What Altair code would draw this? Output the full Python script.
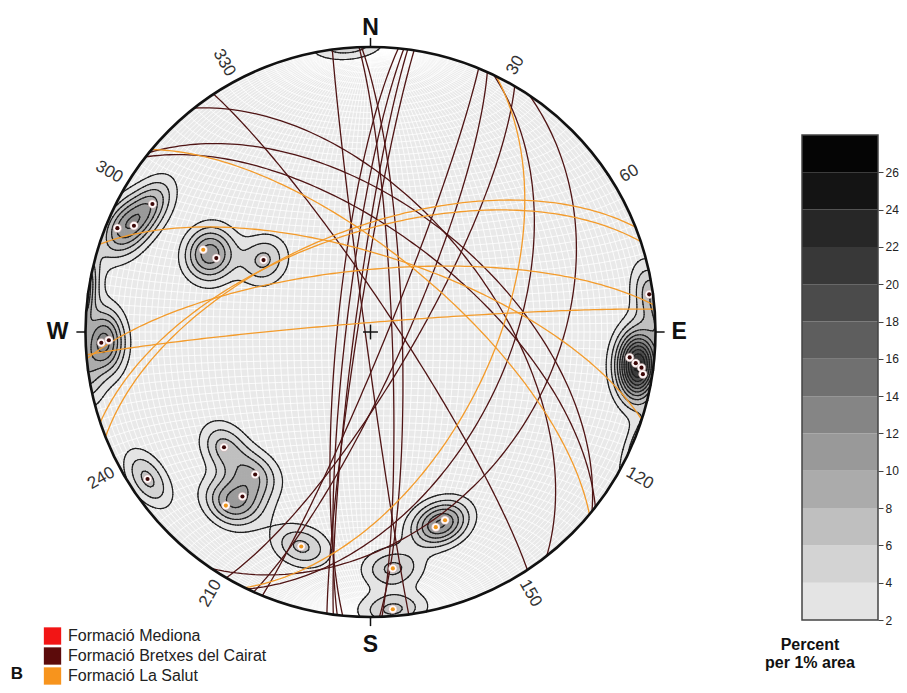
import numpy as np
import pandas as pd
import altair as alt

alt.data_transformers.disable_max_rows()

# ------------------------------------------------------------------ data
BC = "Formació Bretxes del Cairat"
LS = "Formació La Salut"
MD = "Formació Mediona"
formations = [MD, BC, LS]
legend_colors = ["#f21515", "#5c0b0b", "#f7941d"]
circle_colors = {MD: "#e02020", BC: "#4f1414", LS: "#f39b2b"}
pole_colors = {MD: "#e02020", BC: "#3d0707", LS: "#f0961c"}

# poles to planes (trend / plunge, degrees), lower hemisphere
pole_trend = [267.7, 268.2, 300.4, 294.2, 292.3, 296.2, 295.6, 303.9,
              82.3, 95.6, 96.7, 97.5, 98.8,
              231.8, 219.0, 217.9, 219.8, 236.6,
              197.9, 174.6, 175.4, 161.5, 158.4]
pole_plunge = [6.1, 9.0, 12.3, 9.9, 4.5, 34.9, 39.8, 52.7,
               1.5, 9.5, 7.0, 4.6, 3.7,
               34.9, 35.9, 27.7, 21.8, 7.0,
               22.0, 17.8, 2.7, 28.6, 29.7]
pole_formation = [BC, BC, BC, BC, BC, LS, BC, BC,
                  BC, BC, BC, BC, BC,
                  BC, BC, BC, LS, BC,
                  LS, LS, LS, LS, LS]

pct_levels = [2, 4, 6, 8, 10, 12, 14, 16, 18, 20, 22, 24, 26, 28]
band_colors = ["#e4e4e4", "#d3d3d3", "#bfbfbf", "#ababab", "#999999", "#858585",
               "#707070", "#5e5e5e", "#4b4b4b", "#383838", "#272727", "#141414", "#050505"]

cardinal_labels = ["N", "E", "S", "W"]
cardinal_az = [0, 90, 180, 270]
degree_labels = [30, 60, 120, 150, 210, 240, 300, 330]

FONT = "Liberation Sans"
R_PX = 285.0
CX, CY = 362.5, 324.0  # plot-area pixel centre of the net
SX = alt.Scale(domain=[-1, 1], range=[CX - R_PX, CX + R_PX], nice=False, zero=False)
SY = alt.Scale(domain=[-1, 1], range=[CY + R_PX, CY - R_PX], nice=False, zero=False)


def X(f="x"):
    return alt.X(f + ":Q", scale=SX, axis=None)


def Y(f="y"):
    return alt.Y(f + ":Q", scale=SY, axis=None)


# ------------------------------------------------------------------ projection helpers
def to_xy(n, e, z):
    s = np.sqrt(1.0 + z)
    return e / s, n / s


def vec(trend, plunge):
    t, p = np.radians(trend), np.radians(plunge)
    return np.cos(p) * np.cos(t), np.cos(p) * np.sin(t), np.sin(p)


def great_circle(dd, dip, npts=91):
    phi = np.linspace(0, np.pi, npts)
    a, d = np.radians(dd), np.radians(dip)
    sn, se = np.cos(a - np.pi / 2), np.sin(a - np.pi / 2)
    dn, de, dz = np.cos(d) * np.cos(a), np.cos(d) * np.sin(a), np.sin(d)
    n = np.cos(phi) * sn + np.sin(phi) * dn
    e = np.cos(phi) * se + np.sin(phi) * de
    z = np.maximum(np.sin(phi) * dz, 0)
    return to_xy(n, e, z)


def small_circle(alpha, sign, npts=61):
    phi = np.linspace(0, np.pi, npts)
    a = np.radians(alpha)
    n = sign * np.cos(a) * np.ones_like(phi)
    e = np.sin(a) * np.cos(phi)
    z = np.maximum(np.sin(a) * np.sin(phi), 0)
    return to_xy(n, e, z)


# ------------------------------------------------------------------ net grid
net_rows = []
lid = 0
for dip in range(2, 90, 2):
    for dd in (90, 270):
        x, y = great_circle(dd, dip, 61)
        net_rows += [(lid, i, round(a, 4), round(b, 4)) for i, (a, b) in enumerate(zip(x, y))]
        lid += 1
x, y = great_circle(90, 90, 3)
net_rows += [(lid, i, round(a, 4), round(b, 4)) for i, (a, b) in enumerate(zip(x, y))]
lid += 1
for alpha in range(2, 90, 2):
    for sign in (1, -1):
        x, y = small_circle(alpha, sign, 41)
        net_rows += [(lid, i, round(a, 4), round(b, 4)) for i, (a, b) in enumerate(zip(x, y))]
        lid += 1
x, y = small_circle(90, 1, 3)
net_rows += [(lid, i, round(a, 4), round(b, 4)) for i, (a, b) in enumerate(zip(x, y))]
net_df = pd.DataFrame(net_rows, columns=["id", "seq", "x", "y"])

# ------------------------------------------------------------------ density (percent per 1% area)
K = 150.0
h = 2.5 / R_PX
g = np.arange(-1 - 2 * h, 1 + 2 * h + 1e-9, h)
GX, GY = np.meshgrid(g, g)
rr = np.hypot(GX, GY)
fct = np.where(rr > 1, 1.0 / np.maximum(rr, 1e-12), 1.0)
xx, yy = GX * fct, GY * fct
q = xx ** 2 + yy ** 2
zz = 1 - q
kk = np.sqrt(np.maximum(2 - q, 0))
ee, nn = xx * kk, yy * kk
pn, pe, pz = vec(np.array(pole_trend), np.array(pole_plunge))
dens = np.zeros_like(GX)
for a, b, c in zip(pn, pe, pz):
    dens += np.exp(K * (np.abs(nn * a + ee * b + zz * c) - 1))
dens *= K / len(pole_trend)

mask = (rr <= 1.0) & (dens >= pct_levels[0])
band = np.clip((dens // 2).astype(int) - 1, 0, len(band_colors) - 1)
cell_df = pd.DataFrame({
    "x": np.round(GX[mask], 4),
    "y": np.round(GY[mask], 4),
    "col": np.array(band_colors)[band[mask]],
})


def contour_segments(xs, ys, V, level):
    a = V[:-1, :-1]; b = V[:-1, 1:]; c = V[1:, 1:]; d = V[1:, :-1]
    ny, nx = a.shape
    x0 = np.broadcast_to(xs[:-1][None, :], (ny, nx))
    x1 = np.broadcast_to(xs[1:][None, :], (ny, nx))
    y0 = np.broadcast_to(ys[:-1][:, None], (ny, nx))
    y1 = np.broadcast_to(ys[1:][:, None], (ny, nx))

    def cr(p, s):
        return (p >= level) != (s >= level)

    def tt(p, s):
        with np.errstate(divide="ignore", invalid="ignore"):
            return np.where(s != p, (level - p) / (s - p), 0.5)

    t0, t1, t2, t3 = tt(a, b), tt(b, c), tt(d, c), tt(a, d)
    F = np.stack([cr(a, b), cr(b, c), cr(d, c), cr(a, d)])
    EX = np.stack([x0 + t0 * (x1 - x0), x1, x0 + t2 * (x1 - x0), x0])
    EY = np.stack([y0, y0 + t1 * (y1 - y0), y1, y0 + t3 * (y1 - y0)])
    segs = []
    for i, j in np.argwhere(F.sum(0) >= 2):
        pts = [(EX[k, i, j], EY[k, i, j]) for k in range(4) if F[k, i, j]]
        segs.append(pts[0] + pts[1])
        if len(pts) == 4:
            segs.append(pts[2] + pts[3])
    return segs


seg_rows = []
for lev in pct_levels[:-1]:
    for (ax, ay, bx, by) in contour_segments(g, g, dens, lev):
        if np.hypot((ax + bx) / 2, (ay + by) / 2) <= 1.0:
            seg_rows.append((round(ax, 4), round(ay, 4), round(bx, 4), round(by, 4)))
seg_df = pd.DataFrame(seg_rows, columns=["x", "y", "x2", "y2"])

# ------------------------------------------------------------------ great circles and poles
gc_rows = []
order = [i for i in range(len(pole_trend)) if pole_formation[i] == BC] + \
        [i for i in range(len(pole_trend)) if pole_formation[i] == LS]
for i in order:
    x, y = great_circle(pole_trend[i] + 180.0, 90.0 - pole_plunge[i], 121)
    col = circle_colors[pole_formation[i]]
    gc_rows += [(i, k, round(a, 4), round(b, 4), col) for k, (a, b) in enumerate(zip(x, y))]
gc_df = pd.DataFrame(gc_rows, columns=["id", "seq", "x", "y", "col"])

pn, pe, pz = vec(np.array(pole_trend), np.array(pole_plunge))
px, py = to_xy(pn, pe, pz)
pole_df = pd.DataFrame({"x": px, "y": py,
                        "col": [pole_colors[f] for f in pole_formation]})

# ------------------------------------------------------------------ frame elements
centre_df = pd.DataFrame({"x": [0.0], "y": [0.0]})
circle_size = (2 * R_PX) ** 2  # vega symbol size = bounding-square area

tick_df = pd.DataFrame({
    "x": [np.sin(np.radians(a)) * 1.0 for a in cardinal_az],
    "y": [np.cos(np.radians(a)) * 1.0 for a in cardinal_az],
    "x2": [np.sin(np.radians(a)) * 1.032 for a in cardinal_az],
    "y2": [np.cos(np.radians(a)) * 1.032 for a in cardinal_az],
})
cross_df = pd.DataFrame({"x": [-0.026, 0.0], "y": [0.0, -0.026],
                         "x2": [0.026, 0.0], "y2": [0.0, 0.026]})
card_r = {"N": 1.068, "E": 1.083, "S": 1.098, "W": 1.098}
card_df = pd.DataFrame({
    "label": cardinal_labels,
    "x": [np.sin(np.radians(a)) * card_r[l] for l, a in zip(cardinal_labels, cardinal_az)],
    "y": [np.cos(np.radians(a)) * card_r[l] for l, a in zip(cardinal_labels, cardinal_az)],
})
deg_r = [1.045 + 0.01 * len(str(d)) for d in degree_labels]
deg_df = pd.DataFrame({
    "label": [str(d) for d in degree_labels],
    "x": [np.sin(np.radians(d - 1.5 * np.sign(180 - d))) * r for d, r in zip(degree_labels, deg_r)],
    "y": [np.cos(np.radians(d - 1.5 * np.sign(180 - d))) * r for d, r in zip(degree_labels, deg_r)],
    "ang": [((d - 90) if d < 180 else (d - 270)) % 360 for d in degree_labels],
})

cb_df = pd.DataFrame({"lo": pct_levels[:-1], "hi": pct_levels[1:], "col": band_colors})
CB_SCALE = alt.Scale(domain=[pct_levels[0], pct_levels[-1]], range=[612, 127], nice=False, zero=False)

leg_df = pd.DataFrame({"name": formations, "col": legend_colors,
                       "ypix": [628.0, 648.0, 668.0]})

# ------------------------------------------------------------------ layers
bg = alt.Chart(centre_df).mark_point(shape="circle", filled=True, size=circle_size,
                                     color="#e9e9e9", opacity=1, strokeWidth=0).encode(x=X(), y=Y())
net = alt.Chart(net_df).mark_line(color="#ffffff", strokeWidth=0.8).encode(
    x=X(), y=Y(), detail="id:N", order="seq:Q")
cells = alt.Chart(cell_df).mark_square(size=8.5, opacity=1, strokeWidth=0).encode(
    x=X(), y=Y(), color=alt.Color("col:N", scale=None))
cont = alt.Chart(seg_df).mark_rule(color="#1e1e1e", strokeWidth=1.2, strokeCap="round").encode(
    x=X(), y=Y(), x2="x2:Q", y2="y2:Q")
gcs = alt.Chart(gc_df).mark_line(strokeWidth=1.3).encode(
    x=X(), y=Y(), detail="id:N", order="seq:Q", color=alt.Color("col:N", scale=None))
halo = alt.Chart(pole_df).mark_point(shape="circle", filled=True, size=72, color="#fff8f8",
                                     opacity=1, stroke="#b89a9a", strokeWidth=0.5).encode(x=X(), y=Y())
dots = alt.Chart(pole_df).mark_point(shape="circle", filled=True, size=17, opacity=1,
                                     strokeWidth=0).encode(
    x=X(), y=Y(), color=alt.Color("col:N", scale=None))
rim = alt.Chart(centre_df).mark_point(shape="circle", filled=False, size=circle_size,
                                      color="#111111", opacity=1, strokeWidth=2.6).encode(x=X(), y=Y())
ticks = alt.Chart(tick_df).mark_rule(color="#111111", strokeWidth=1.5).encode(
    x=X(), y=Y(), x2="x2:Q", y2="y2:Q")
cross = alt.Chart(cross_df).mark_rule(color="#111111", strokeWidth=1.5).encode(
    x=X(), y=Y(), x2="x2:Q", y2="y2:Q")
cards = alt.Chart(card_df).mark_text(font=FONT, fontSize=23, fontWeight="bold", color="#111111",
                                     align="center", baseline="middle").encode(
    x=X(), y=Y(), text="label:N")
degs = alt.Chart(deg_df).mark_text(font=FONT, fontSize=17, color="#333333",
                                   align="center", baseline="middle").encode(
    x=X(), y=Y(), text="label:N", angle=alt.Angle("ang:Q", scale=None))

cbar = alt.Chart(cb_df).mark_rect(strokeWidth=0).encode(
    x=alt.value(794), x2=alt.value(870),
    y=alt.Y("lo:Q", scale=CB_SCALE,
            axis=alt.Axis(orient="right", offset=-21, values=pct_levels[:-1], title=None,
                          domain=False, grid=False, ticks=True, tickSize=5, tickColor="#444444",
                          tickWidth=1, labelFont=FONT, labelFontSize=12, labelColor="#222222",
                          labelPadding=2)),
    y2="hi:Q",
    color=alt.Color("col:N", scale=None))
cb_frame = alt.Chart(pd.DataFrame({"lo": [pct_levels[0]], "hi": [pct_levels[-1]]})).mark_rect(
    fill=None, stroke="#444444", strokeWidth=1.5).encode(
    x=alt.value(794), x2=alt.value(870),
    y=alt.Y("lo:Q", scale=CB_SCALE, axis=None), y2="hi:Q")
cb_title = alt.Chart(pd.DataFrame({"t": ["Percent", "per 1% area"], "ypix": [637, 655]})).mark_text(
    font=FONT, fontSize=16, fontWeight="bold", color="#111111", align="center", baseline="middle").encode(
    x=alt.value(802), y=alt.Y("ypix:Q", scale=None), text="t:N")

leg_sq = alt.Chart(leg_df).mark_square(size=300, opacity=1, strokeWidth=0).encode(
    x=alt.value(44.5), y=alt.Y("ypix:Q", scale=None), color=alt.Color("col:N", scale=None))
leg_tx = alt.Chart(leg_df).mark_text(font=FONT, fontSize=16, color="#222222", align="left",
                                     baseline="middle").encode(
    x=alt.value(60), y=alt.Y("ypix:Q", scale=None), text="name:N")
panel = alt.Chart(pd.DataFrame({"t": ["B"]})).mark_text(
    font=FONT, fontSize=17, fontWeight="bold", color="#111111", align="center", baseline="middle").encode(
    x=alt.value(9), y=alt.value(666), text="t:N")

chart = alt.layer(bg, net, cells, cont, gcs, halo, dots, rim, ticks, cross, cards, degs,
                  cbar, cb_frame, cb_title, leg_sq, leg_tx, panel).resolve_scale(
    x="independent", y="independent").properties(
    width=891, height=677, autosize=alt.AutoSizeParams(type="none"), padding=0
).configure_view(stroke=None)

chart.save("out.html", embed_options={"renderer": "svg", "actions": False})
